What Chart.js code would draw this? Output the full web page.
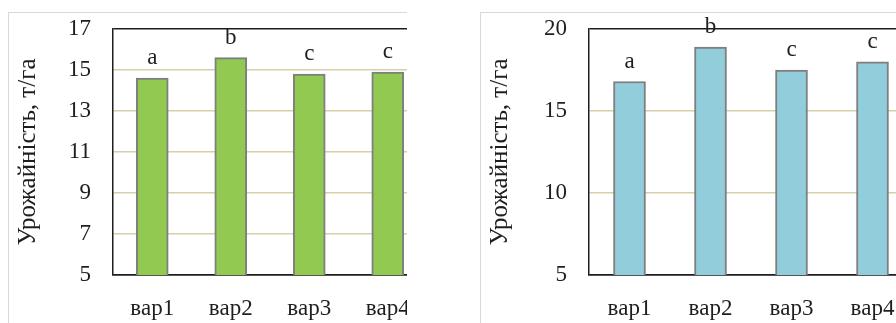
<!DOCTYPE html>
<html>
<head>
<meta charset="utf-8">
<script src="https://cdn.jsdelivr.net/npm/chart.js@4/dist/chart.umd.min.js"></script>
<style>
  html, body { margin: 0; padding: 0; background: #fff; }
  body { width: 896px; height: 323px; overflow: hidden; position: relative; font-family: "Liberation Serif", serif; }
  .clip { position: absolute; top: 0; height: 323px; overflow: hidden; }
  .box { position: absolute; top: 12px; border: 1px solid #d9d9d9; background: #fff; }
  .box canvas { position: absolute; left: 0; top: 0; }
</style>
</head>
<body>
<div class="clip" style="left:0;width:407px;">
  <div class="box" style="left:8px;width:458px;height:338px;"><canvas id="chart1" width="458" height="338"></canvas></div>
</div>
<div class="clip" style="left:0;width:896px;">
  <div class="box" style="left:480px;width:460px;height:338px;"><canvas id="chart2" width="460" height="338"></canvas></div>
</div>
<script>
  const categories = ['вар1', 'вар2', 'вар3', 'вар4'];
  const yieldLeft  = [14.6, 15.6, 14.8, 14.9];
  const yieldRight = [16.8, 18.9, 17.5, 18.0];
  const lettersLeft  = ['a', 'b', 'c', 'c'];
  const lettersRight = ['a', 'b', 'c', 'c'];
  const ticksLeft  = [5, 7, 9, 11, 13, 15, 17];
  const ticksRight = [5, 10, 15, 20];
  const yTitle = 'Урожайність, т/га';

  const serif = "'Liberation Serif', 'DejaVu Serif', serif";
  const gridTan = '#d6cfaa';
  const ink = '#1e1e1e';

  // підписи-літери над стовпчиками
  const lettersPlugin = {
    id: 'letters',
    afterDatasetsDraw(chart, args, opts) {
      const { ctx } = chart;
      const meta = chart.getDatasetMeta(0);
      ctx.save();
      ctx.font = '23px ' + serif;
      ctx.fillStyle = ink;
      ctx.textAlign = 'center';
      ctx.textBaseline = 'middle';
      meta.data.forEach((bar, i) => {
        ctx.fillText(opts.letters[i], bar.x, bar.y - 20);
      });
      ctx.restore();
    }
  };

  function makeChart(id, values, letters, tickVals, color, yWidth, padRight) {
    const min = tickVals[0], max = tickVals[tickVals.length - 1];
    return new Chart(document.getElementById(id), {
      type: 'bar',
      data: {
        labels: categories,
        datasets: [{
          data: values,
          backgroundColor: color,
          borderColor: '#7f7f7f',
          borderWidth: 2,
          borderSkipped: false,
          barThickness: 32
        }]
      },
      options: {
        responsive: false,
        animation: false,
        events: [],
        layout: { padding: { left: 0, top: 16, right: padRight, bottom: 26 } },
        plugins: {
          legend: { display: false },
          tooltip: { enabled: false },
          letters: { letters: letters }
        },
        scales: {
          x: {
            grid: { display: false, drawTicks: false },
            border: { display: true, color: ink, width: 1.5 },
            ticks: { color: ink, font: { family: serif, size: 23 }, padding: 20, maxRotation: 0 },
            afterFit: s => { s.height = 50; s.paddingLeft = 0; s.paddingRight = 0; }
          },
          y: {
            min: min,
            max: max,
            afterBuildTicks: s => { s.ticks = tickVals.map(v => ({ value: v })); },
            grid: {
              drawTicks: false,
              lineWidth: 1.5,
              color: c => (c.tick && (c.tick.value === max || c.tick.value === min)) ? ink : gridTan
            },
            border: { display: true, color: ink, width: 1.5 },
            ticks: { color: ink, font: { family: serif, size: 23 }, padding: 22 },
            title: {
              display: true,
              text: yTitle,
              color: ink,
              font: { family: serif, size: 25 },
              padding: { top: 4, bottom: 0 }
            },
            afterFit: s => { s.width = yWidth; s.paddingTop = 0; s.paddingBottom = 0; }
          }
        }
      },
      plugins: [lettersPlugin]
    });
  }

  const draw = () => {
    makeChart('chart1', yieldLeft, lettersLeft, ticksLeft, '#92c951', 104, 40);
    makeChart('chart2', yieldRight, lettersRight, ticksRight, '#92cddc', 108, 28);
  };
  if (document.fonts && document.fonts.load) {
    document.fonts.load("23px 'Liberation Serif'", 'вар1').then(draw, draw);
  } else {
    draw();
  }
</script>
</body>
</html>
